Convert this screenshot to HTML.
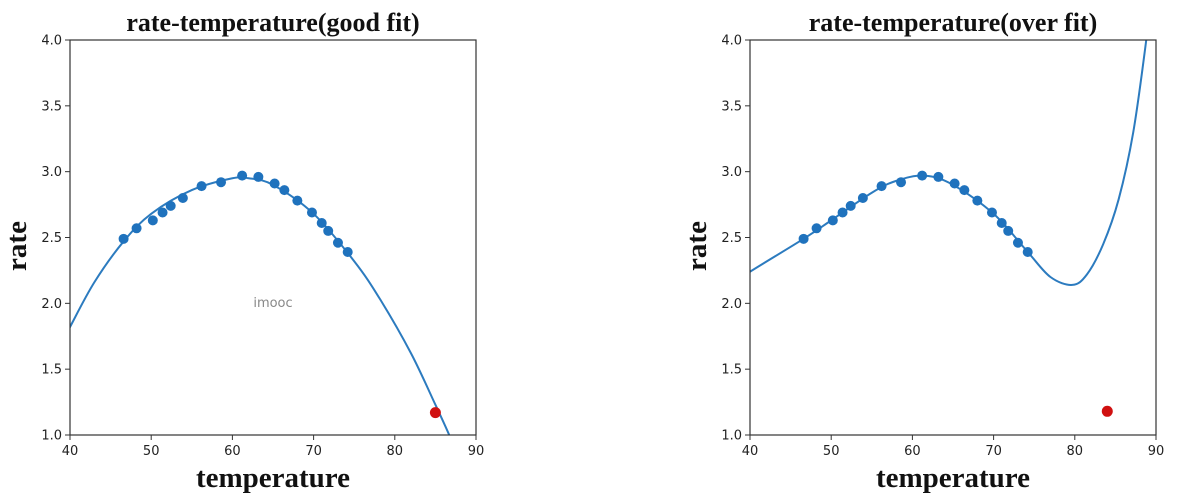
<!DOCTYPE html>
<html><head><meta charset="utf-8"><style>
html,body{margin:0;padding:0;background:#fff;width:1181px;height:503px;overflow:hidden}
svg text{font-family:"DejaVu Sans","Liberation Sans",sans-serif}
.t{font-family:"Liberation Serif",serif !important;font-weight:bold;fill:#111}
.tk{font-size:13px;fill:#222}
</style></head><body>
<svg id="s" width="1181" height="503" xmlns="http://www.w3.org/2000/svg"></svg>
<script>
const s=document.getElementById('s');let h='';
const pts=[[46.6,2.49],[48.2,2.57],[50.2,2.63],[51.4,2.69],[52.4,2.74],[53.9,2.80],[56.2,2.89],[58.6,2.92],[61.2,2.97],[63.2,2.96],[65.2,2.91],[66.4,2.86],[68.0,2.78],[69.8,2.69],[71.0,2.61],[71.8,2.55],[73.0,2.46],[74.2,2.39]];
function cr(p){let d='M'+p[0][0]+','+p[0][1];for(let i=0;i<p.length-1;i++){const a=p[Math.max(0,i-1)],b=p[i],c=p[i+1],e=p[Math.min(p.length-1,i+2)];d+=' C'+(b[0]+(c[0]-a[0])/6)+','+(b[1]+(c[1]-a[1])/6)+' '+(c[0]-(e[0]-b[0])/6)+','+(c[1]-(e[1]-b[1])/6)+' '+c[0]+','+c[1];}return d;}
function plot(x0,title,curve,red,wm){
 const X=t=>x0+(t-40)*406/50, Y=r=>435-(r-1)*395/3;
 h+=`<defs><clipPath id="c${x0}"><rect x="${x0}" y="40" width="406" height="395"/></clipPath></defs>`;
 h+=`<text class="t" x="${x0+203}" y="31" text-anchor="middle" font-size="26">${title}</text>`;
 h+=`<path d="${cr(curve.map(p=>[X(p[0]),Y(p[1])]))}" fill="none" stroke="#2c7bbf" stroke-width="2" clip-path="url(#c${x0})"/>`;
 pts.forEach(p=>h+=`<circle cx="${X(p[0])}" cy="${Y(p[1])}" r="5" fill="#1f72bd"/>`);
 h+=`<circle cx="${X(red[0])}" cy="${Y(red[1])}" r="5.5" fill="#d01010"/>`;
 h+=`<rect x="${x0}" y="40" width="406" height="395" fill="none" stroke="#333" stroke-width="1.2"/>`;
 for(let t=40;t<=90;t+=10){h+=`<line x1="${X(t)}" x2="${X(t)}" y1="435" y2="440" stroke="#333"/><text class="tk" x="${X(t)}" y="455" text-anchor="middle">${t}</text>`;}
 for(let r=1;r<=4.01;r+=0.5){h+=`<line x1="${x0-5}" x2="${x0}" y1="${Y(r)}" y2="${Y(r)}" stroke="#333"/><text class="tk" x="${x0-8}" y="${Y(r)+4.5}" text-anchor="end">${r.toFixed(1)}</text>`;}
 h+=`<text class="t" x="${x0+203}" y="487" text-anchor="middle" font-size="29">temperature</text>`;
 h+=`<text class="t" transform="translate(${x0-44},246) rotate(-90)" text-anchor="middle" font-size="29">rate</text>`;
 if(wm)h+=`<text x="273" y="307" text-anchor="middle" font-size="13" fill="#888">imooc</text>`;
}
plot(70,'rate-temperature(good fit)',[[39,1.7],[40,1.82],[43,2.16],[46.6,2.47],[50,2.68],[55,2.86],[60,2.95],[62,2.95],[65,2.9],[70,2.68],[75,2.32],[78.2,2.03],[82,1.62],[85,1.23],[86.7,1.0],[88,0.8]],[85,1.17],true);
plot(750,'rate-temperature(over fit)',[[39,2.19],[40,2.24],[46.6,2.49],[50,2.63],[55,2.84],[58,2.93],[61.5,2.97],[65,2.9],[70,2.68],[74.2,2.39],[77,2.2],[79.7,2.14],[81.5,2.22],[83.5,2.45],[85.4,2.79],[87.2,3.3],[88.8,4.0],[89.5,4.4]],[84,1.18],false);
s.innerHTML=h;
</script>
</body></html>
